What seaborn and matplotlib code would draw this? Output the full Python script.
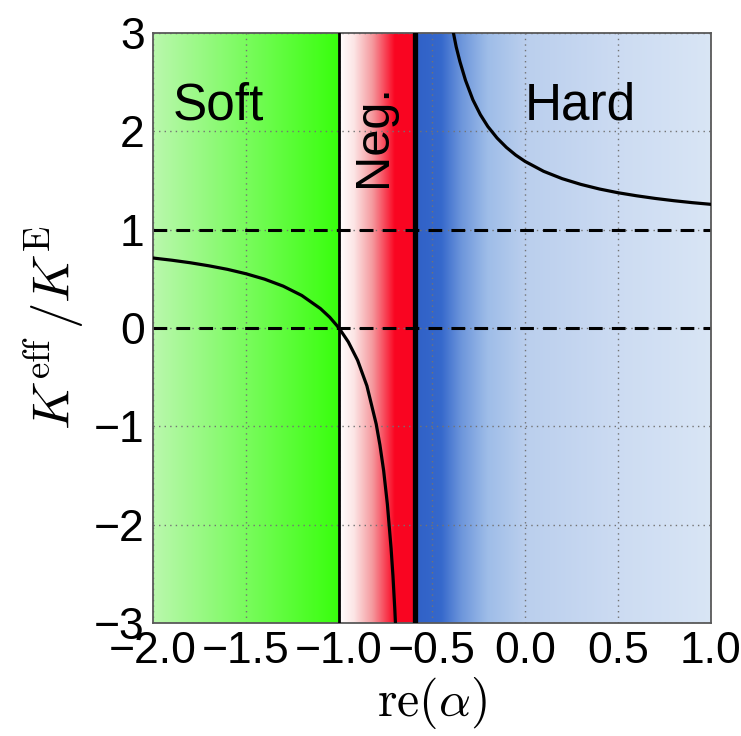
import numpy as np
import pandas as pd
import matplotlib
matplotlib.use("Agg")
import matplotlib.pyplot as plt
import seaborn as sns

# ---- data ----
alpha_left = [-2.0, -1.9, -1.8, -1.7, -1.6, -1.5, -1.4, -1.3, -1.2, -1.1, -1.05, -1.0,
              -0.95, -0.9, -0.85, -0.8, -0.78, -0.76, -0.74, -0.72, -0.71, -0.70, -0.69, -0.68]
k_left = [0.712, 0.690, 0.664, 0.633, 0.597, 0.552, 0.497, 0.426, 0.331, 0.198, 0.110, 0.000,
          -0.141, -0.328, -0.588, -0.976, -1.19, -1.45, -1.79, -2.24, -2.52, -2.86, -3.26, -3.76]
alpha_right = [-0.43, -0.41, -0.39, -0.37, -0.35, -0.32, -0.28, -0.24, -0.2, -0.15, -0.1,
               -0.05, 0.0, 0.1, 0.2, 0.3, 0.4, 0.5, 0.6, 0.7, 0.8, 0.9, 1.0]
k_right = [3.56, 3.28, 3.05, 2.86, 2.71, 2.52, 2.32, 2.17, 2.05, 1.932, 1.837,
           1.759, 1.695, 1.594, 1.519, 1.461, 1.414, 1.376, 1.345, 1.318, 1.295, 1.275, 1.258]
hlines = [0.0, 1.0]
boundary_soft = -1.0
boundary_hard = -0.59
region_labels = ["Soft", "Neg.", "Hard"]
xticks = [-2.0, -1.5, -1.0, -0.5, 0.0, 0.5, 1.0]
yticks = [-3, -2, -1, 0, 1, 2, 3]

sns.set_theme(style="whitegrid")
plt.rcParams["font.family"] = ["Liberation Sans", "DejaVu Sans"]
plt.rcParams["mathtext.fontset"] = "cm"

fig = plt.figure(figsize=(7.41, 7.36), dpi=100)
ax = fig.add_axes([0.2065, 0.1535, 0.753, 0.8016])

# ---- background gradient (styling) ----
xs = np.linspace(-2.0, 1.0, 1200)
stops_x = [-2.0, -1.0001, -1.0, -0.92, -0.82, -0.70, boundary_hard - 0.0001,
           boundary_hard, -0.45, -0.34, -0.2, 0.0, 0.5, 1.0]
stops_c = np.array([
    [0.73, 0.97, 0.68],
    [0.22, 1.00, 0.05],
    [1.00, 1.00, 1.00],
    [0.99, 0.90, 0.90],
    [0.96, 0.60, 0.62],
    [0.98, 0.02, 0.13],
    [0.98, 0.02, 0.13],
    [0.19, 0.38, 0.78],
    [0.21, 0.41, 0.80],
    [0.43, 0.59, 0.86],
    [0.62, 0.74, 0.91],
    [0.73, 0.81, 0.93],
    [0.80, 0.86, 0.95],
    [0.85, 0.90, 0.96],
])
img = np.stack([np.interp(xs, stops_x, stops_c[:, i]) for i in range(3)], axis=-1)
img = np.repeat(img[None, :, :], 2, axis=0)
ax.imshow(img, extent=[-2.0, 1.0, -3.0, 3.0], aspect="auto", zorder=0,
          interpolation="bilinear")

# dashed reference lines
for h in hlines:
    ax.axhline(h, color="black", lw=2.2, ls=(0, (4.5, 3.0)), zorder=2)

# boundaries
ax.axvline(boundary_soft, color="black", lw=2.0, zorder=3)
ax.axvline(boundary_hard, color="black", lw=3.8, zorder=3)

# curve
df_l = pd.DataFrame({"alpha": alpha_left, "k": k_left})
df_r = pd.DataFrame({"alpha": alpha_right, "k": k_right})
sns.lineplot(data=df_l, x="alpha", y="k", color="black", lw=2.3, sort=False,
             estimator=None, ax=ax, zorder=4)
sns.lineplot(data=df_r, x="alpha", y="k", color="black", lw=2.3, sort=False,
             estimator=None, ax=ax, zorder=4)

ax.set_xlim(-2.0, 1.0)
ax.set_ylim(-3.0, 3.0)
ax.set_xticks(xticks)
ax.set_yticks(yticks)
ax.set_xticklabels([f"{v:.1f}".replace("-", "\u2212") for v in xticks])
ax.set_yticklabels([f"{v}".replace("-", "\u2212") for v in yticks])
ax.tick_params(axis="both", labelsize=32, length=0, pad=6, colors="black")

ax.grid(True, color="0.45", ls=(0, (1, 3)), lw=1.0)
ax.set_axisbelow(True)
for s in ax.spines.values():
    s.set_color("0.35")
    s.set_linewidth(1.3)

ax.set_xlabel(r"$\mathrm{re}(\alpha)$", fontsize=36, labelpad=2, color="black")
ax.set_ylabel(r"$K^{\rm eff}\,/K^{\rm E}$", fontsize=38, labelpad=6, color="black")

ax.text(-1.895, 2.12, region_labels[0], fontsize=37, ha="left", va="baseline",
        color="black", zorder=5)
ax.text(-0.815, 1.96, region_labels[1], fontsize=35, rotation=90, ha="center",
        va="center", color="black", zorder=5)
ax.text(0.0, 2.12, region_labels[2], fontsize=37, ha="left", va="baseline",
        color="black", zorder=5)

fig.savefig("out.png", dpi=100)
